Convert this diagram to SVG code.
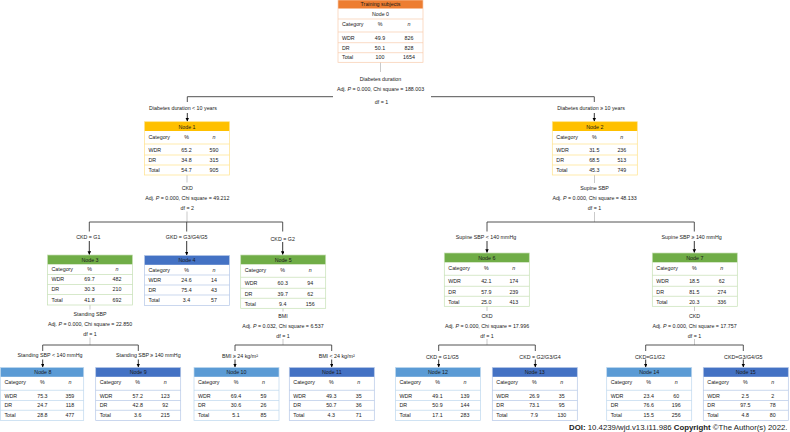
<svg xmlns="http://www.w3.org/2000/svg" width="790" height="432" viewBox="0 0 790 432">
<style>
text{font-family:"Liberation Sans",Arial,sans-serif;font-size:5.3px;fill:#1a1a1a}
.c{text-anchor:middle}
.i{font-style:italic}
.bx,.sep{fill:none;stroke-width:0.7}
.orange .hd{fill:#ED7D31}.orange .bx,.orange .sep{stroke:#F8CBAD}
.gold .hd{fill:#FFC000}.gold .bx,.gold .sep{stroke:#FFE28A}
.green .hd{fill:#70AD47}.green .bx,.green .sep{stroke:#C5E0B4}
.blue .hd{fill:#4472C4}.blue .bx,.blue .sep{stroke:#B4C7E7}
.lblue .hd{fill:#5B9BD5}.lblue .bx,.lblue .sep{stroke:#BDD7EE}
.stem{fill:none;stroke:#a6a6a6;stroke-width:0.6}
.br{fill:none;stroke:#404040;stroke-width:0.9}
.ar{fill:none;stroke:#000;stroke-width:0.8;marker-end:url(#ah)}
</style>
<defs>
<marker id="ah" markerUnits="userSpaceOnUse" markerWidth="4" markerHeight="4" refX="3.5" refY="1.75" orient="auto"><path d="M0,0L3.5,1.75L0,3.5z" fill="#000"/></marker>
</defs>
<rect width="790" height="432" fill="#fff"/>

<g id="connectors">
<path class="stem" d="M380.5,62.3V72"/>
<path class="br" d="M187.3,102V96.7H333M431,96.7H594.3V102"/>
<path class="ar" d="M187.3,113V121.5"/>
<path class="ar" d="M594.3,113V121.5"/>
<path class="stem" d="M187,175V182.5M187,211.5V222"/>
<path class="br" d="M89.3,231.5V222H282.7V231.5M186.7,222V231.5"/>
<path class="ar" d="M89.3,241V254.8"/>
<path class="ar" d="M186.7,241V255.3"/>
<path class="ar" d="M282.7,242V254.8"/>
<path class="stem" d="M594.5,175V183M594.5,212V222"/>
<path class="br" d="M487,231.5V222H694.3V231.5"/>
<path class="ar" d="M487,241V252.8"/>
<path class="ar" d="M694.3,241V252.8"/>
<path class="stem" d="M90,305V309.5M90,337.5V345"/>
<path class="br" d="M42.7,351V345H138.3V351"/>
<path class="stem" d="M283,308.3V311.5M283,339V345"/>
<path class="br" d="M235,351V345H331.7V351"/>
<path class="stem" d="M487,306.3V311M487,339V345"/>
<path class="br" d="M438.7,351V345H535.3V351"/>
<path class="stem" d="M694.5,306.3V311M694.5,339V345"/>
<path class="br" d="M645.7,351V345H743.3V351"/>
<path class="ar" d="M42.7,359.5V367.3"/>
<path class="ar" d="M138.3,359.5V367.3"/>
<path class="ar" d="M235,359.5V367.3"/>
<path class="ar" d="M331.7,359.5V367.3"/>
<path class="ar" d="M438.7,359.5V367.3"/>
<path class="ar" d="M535.3,359.5V367.3"/>
<path class="ar" d="M645.7,359.5V367.3"/>
<path class="ar" d="M743.3,359.5V367.3"/>
</g>

<g id="labels">
<text class="c" x="380.5" y="80.9">Diabetes duration</text>
<text class="c" x="380.5" y="91.2">Adj. <tspan class="i">P</tspan> = 0.000, Chi square = 188.003</text>
<text class="c" x="381.5" y="103.6">df = 1</text>
<text class="c" x="183" y="109.9">Diabetes duration &lt; 10 years</text>
<text class="c" x="591" y="110.2">Diabetes duration ≥ 10 years</text>
<text class="c" x="187.3" y="189.6">CKD</text>
<text class="c" x="187.3" y="199.6">Adj. <tspan class="i">P</tspan> = 0.000, Chi square = 49.212</text>
<text class="c" x="187.3" y="209.6">df = 2</text>
<text class="c" x="594.5" y="190.2">Supine SBP</text>
<text class="c" x="594.5" y="200.2">Adj. <tspan class="i">P</tspan> = 0.000, Chi square = 48.133</text>
<text class="c" x="594.5" y="210.2">df = 1</text>
<text class="c" x="88.3" y="238.6">CKD = G1</text>
<text class="c" x="186.7" y="238.6">GKD = G3/G4/G5</text>
<text class="c" x="282.7" y="240.9">CKD = G2</text>
<text class="c" x="486" y="238.6">Supine SBP &lt; 140 mmHg</text>
<text class="c" x="691.7" y="238.6">Supine SBP ≥ 140 mmHg</text>
<text class="c" x="90" y="316.2">Standing SBP</text>
<text class="c" x="90" y="326.2">Adj. <tspan class="i">P</tspan> = 0.000, Chi square = 22.850</text>
<text class="c" x="90" y="335.9">df = 1</text>
<text class="c" x="283" y="317.6">BMI</text>
<text class="c" x="283" y="327.6">Adj. <tspan class="i">P</tspan> = 0.032, Chi square = 6.537</text>
<text class="c" x="283" y="337.9">df = 1</text>
<text class="c" x="487" y="317.6">CKD</text>
<text class="c" x="487" y="327.6">Adj. <tspan class="i">P</tspan> = 0.000, Chi square = 17.996</text>
<text class="c" x="487" y="337.6">df = 1</text>
<text class="c" x="694.5" y="317.6">CKD</text>
<text class="c" x="694.5" y="327.6">Adj. <tspan class="i">P</tspan> = 0.000, Chi square = 17.757</text>
<text class="c" x="694.5" y="337.6">df = 1</text>
<text class="c" x="50" y="357.2">Standing SBP &lt; 140 mmHg</text>
<text class="c" x="148.3" y="357.2">Standing SBP ≥ 140 mmHg</text>
<text class="c" x="240" y="357.9">BMI ≥ 24 kg/m²</text>
<text class="c" x="336.7" y="357.9">BMI &lt; 24 kg/m²</text>
<text class="c" x="442.3" y="358.6">CKD = G1/G5</text>
<text class="c" x="540" y="358.6">CKD = G2/G3/G4</text>
<text class="c" x="650" y="358.6">CKD=G1/G2</text>
<text class="c" x="743.3" y="358.6">CKD=G3/G4/G5</text>
</g>

<g id="node0" class="orange" transform="translate(338,0)">
<rect class="hd" width="85" height="8.5"/>
<rect class="bx" x="0" y="0" width="85" height="62.3"/>
<path class="sep" d="M0,19H85M0,32H85M0,42.7H85M0,52.7H85"/>
<text class="c" x="42.5" y="6.2">Training subjects</text>
<text class="c" x="42.5" y="16.2">Node 0</text>
<text x="4" y="25.9">Category</text><text class="c" x="42" y="25.9">%</text><text class="c i" x="71" y="25.9">n</text>
<text x="4" y="39.6">WDR</text><text class="c" x="42" y="39.6">49.9</text><text class="c" x="71" y="39.6">826</text>
<text x="4" y="49.6">DR</text><text class="c" x="42" y="49.6">50.1</text><text class="c" x="71" y="49.6">828</text>
<text x="4" y="59.2">Total</text><text class="c" x="42" y="59.2">100</text><text class="c" x="71" y="59.2">1654</text>
</g>

<g id="node1" class="gold" transform="translate(144.5,121.7)">
<rect class="hd" width="85" height="9.3"/><rect class="bx" width="85" height="53.3"/>
<path class="sep" d="M0,22.3H85M0,33.3H85M0,43.3H85"/>
<text class="c" x="42.5" y="6.9">Node 1</text>
<text x="4" y="17.2">Category</text><text class="c" x="42" y="17.2">%</text><text class="c i" x="69.5" y="17.2">n</text>
<text x="4" y="30.2">WDR</text><text class="c" x="42" y="30.2">65.2</text><text class="c" x="69.5" y="30.2">590</text>
<text x="4" y="40.5">DR</text><text class="c" x="42" y="40.5">34.8</text><text class="c" x="69.5" y="40.5">315</text>
<text x="4" y="50.5">Total</text><text class="c" x="42" y="50.5">54.7</text><text class="c" x="69.5" y="50.5">905</text>
</g>

<g id="node2" class="gold" transform="translate(552.3,121.7)">
<rect class="hd" width="85" height="9.3"/><rect class="bx" width="85" height="53.3"/>
<path class="sep" d="M0,22.3H85M0,33.3H85M0,43.3H85"/>
<text class="c" x="42.5" y="6.9">Node 2</text>
<text x="4" y="17.2">Category</text><text class="c" x="42" y="17.2">%</text><text class="c i" x="69.5" y="17.2">n</text>
<text x="4" y="30.2">WDR</text><text class="c" x="42" y="30.2">31.5</text><text class="c" x="69.5" y="30.2">236</text>
<text x="4" y="40.5">DR</text><text class="c" x="42" y="40.5">68.5</text><text class="c" x="69.5" y="40.5">513</text>
<text x="4" y="50.5">Total</text><text class="c" x="42" y="50.5">45.3</text><text class="c" x="69.5" y="50.5">749</text>
</g>

<g id="node3" class="green" transform="translate(47.5,255)">
<rect class="hd" width="85" height="9.3"/><rect class="bx" width="85" height="50"/>
<path class="sep" d="M0,19.5H85M0,29.5H85M0,39.5H85"/>
<text class="c" x="42.5" y="6.9">Node 3</text>
<text x="4" y="16.4">Category</text><text class="c" x="42" y="16.4">%</text><text class="c i" x="69.5" y="16.4">n</text>
<text x="4" y="26.4">WDR</text><text class="c" x="42" y="26.4">69.7</text><text class="c" x="69.5" y="26.4">482</text>
<text x="4" y="36.4">DR</text><text class="c" x="42" y="36.4">30.3</text><text class="c" x="69.5" y="36.4">210</text>
<text x="4" y="46.6">Total</text><text class="c" x="42" y="46.6">41.8</text><text class="c" x="69.5" y="46.6">692</text>
</g>

<g id="node4" class="blue" transform="translate(144.5,255.5)">
<rect class="hd" width="85" height="9.3"/><rect class="bx" width="85" height="50"/>
<path class="sep" d="M0,19.5H85M0,29.5H85M0,39.5H85"/>
<text class="c" x="42.5" y="6.9">Node 4</text>
<text x="4" y="16.4">Category</text><text class="c" x="42" y="16.4">%</text><text class="c i" x="69.5" y="16.4">n</text>
<text x="4" y="26.4">WDR</text><text class="c" x="42" y="26.4">24.6</text><text class="c" x="69.5" y="26.4">14</text>
<text x="4" y="36.4">DR</text><text class="c" x="42" y="36.4">75.4</text><text class="c" x="69.5" y="36.4">43</text>
<text x="4" y="46.6">Total</text><text class="c" x="42" y="46.6">3.4</text><text class="c" x="69.5" y="46.6">57</text>
</g>

<g id="node5" class="green" transform="translate(240.7,255)">
<rect class="hd" width="85" height="9.3"/><rect class="bx" width="85" height="53.3"/>
<path class="sep" d="M0,22.3H85M0,33.3H85M0,43.3H85"/>
<text class="c" x="42.5" y="6.9">Node 5</text>
<text x="4" y="17.2">Category</text><text class="c" x="42" y="17.2">%</text><text class="c i" x="69.5" y="17.2">n</text>
<text x="4" y="30.2">WDR</text><text class="c" x="42" y="30.2">60.3</text><text class="c" x="69.5" y="30.2">94</text>
<text x="4" y="40.5">DR</text><text class="c" x="42" y="40.5">39.7</text><text class="c" x="69.5" y="40.5">62</text>
<text x="4" y="50.5">Total</text><text class="c" x="42" y="50.5">9.4</text><text class="c" x="69.5" y="50.5">156</text>
</g>

<g id="node6" class="green" transform="translate(444.3,253)">
<rect class="hd" width="85" height="9.3"/><rect class="bx" width="85" height="53.3"/>
<path class="sep" d="M0,22.3H85M0,33.3H85M0,43.3H85"/>
<text class="c" x="42.5" y="6.9">Node 6</text>
<text x="4" y="17.2">Category</text><text class="c" x="42" y="17.2">%</text><text class="c i" x="69.5" y="17.2">n</text>
<text x="4" y="30.2">WDR</text><text class="c" x="42" y="30.2">42.1</text><text class="c" x="69.5" y="30.2">174</text>
<text x="4" y="40.5">DR</text><text class="c" x="42" y="40.5">57.9</text><text class="c" x="69.5" y="40.5">239</text>
<text x="4" y="50.5">Total</text><text class="c" x="42" y="50.5">25.0</text><text class="c" x="69.5" y="50.5">413</text>
</g>

<g id="node7" class="green" transform="translate(652.3,253)">
<rect class="hd" width="85" height="9.3"/><rect class="bx" width="85" height="53.3"/>
<path class="sep" d="M0,22.3H85M0,33.3H85M0,43.3H85"/>
<text class="c" x="42.5" y="6.9">Node 7</text>
<text x="4" y="17.2">Category</text><text class="c" x="42" y="17.2">%</text><text class="c i" x="69.5" y="17.2">n</text>
<text x="4" y="30.2">WDR</text><text class="c" x="42" y="30.2">18.5</text><text class="c" x="69.5" y="30.2">62</text>
<text x="4" y="40.5">DR</text><text class="c" x="42" y="40.5">81.5</text><text class="c" x="69.5" y="40.5">274</text>
<text x="4" y="50.5">Total</text><text class="c" x="42" y="50.5">20.3</text><text class="c" x="69.5" y="50.5">336</text>
</g>

<g id="node8" class="lblue" transform="translate(0.4,367.5)">
<rect class="hd" width="83.3" height="9.3"/><rect class="bx" width="83.3" height="53"/>
<path class="sep" d="M0,22.8H83.3M0,33H83.3M0,42.8H83.3"/>
<text class="c" x="42.5" y="6.9">Node 8</text>
<text x="4" y="16.7">Category</text><text class="c" x="42" y="16.7">%</text><text class="c i" x="69.5" y="16.7">n</text>
<text x="4" y="30.4">WDR</text><text class="c" x="42" y="30.4">75.3</text><text class="c" x="69.5" y="30.4">359</text>
<text x="4" y="39.7">DR</text><text class="c" x="42" y="39.7">24.7</text><text class="c" x="69.5" y="39.7">118</text>
<text x="4" y="49.7">Total</text><text class="c" x="42" y="49.7">28.8</text><text class="c" x="69.5" y="49.7">477</text>
</g>

<g id="node9" class="blue" transform="translate(95.7,367.5)">
<rect class="hd" width="85" height="9.3"/><rect class="bx" width="85" height="53"/>
<path class="sep" d="M0,22.8H85M0,33H85M0,42.8H85"/>
<text class="c" x="42.5" y="6.9">Node 9</text>
<text x="4" y="16.7">Category</text><text class="c" x="42" y="16.7">%</text><text class="c i" x="69.5" y="16.7">n</text>
<text x="4" y="30.4">WDR</text><text class="c" x="42" y="30.4">57.2</text><text class="c" x="69.5" y="30.4">123</text>
<text x="4" y="39.7">DR</text><text class="c" x="42" y="39.7">42.8</text><text class="c" x="69.5" y="39.7">92</text>
<text x="4" y="49.7">Total</text><text class="c" x="42" y="49.7">3.6</text><text class="c" x="69.5" y="49.7">215</text>
</g>

<g id="node10" class="lblue" transform="translate(194,367.5)">
<rect class="hd" width="85" height="9.3"/><rect class="bx" width="85" height="53"/>
<path class="sep" d="M0,22.8H85M0,33H85M0,42.8H85"/>
<text class="c" x="42.5" y="6.9">Node 10</text>
<text x="4" y="16.7">Category</text><text class="c" x="42" y="16.7">%</text><text class="c i" x="69.5" y="16.7">n</text>
<text x="4" y="30.4">WDR</text><text class="c" x="42" y="30.4">69.4</text><text class="c" x="69.5" y="30.4">59</text>
<text x="4" y="39.7">DR</text><text class="c" x="42" y="39.7">30.6</text><text class="c" x="69.5" y="39.7">26</text>
<text x="4" y="49.7">Total</text><text class="c" x="42" y="49.7">5.1</text><text class="c" x="69.5" y="49.7">85</text>
</g>

<g id="node11" class="blue" transform="translate(289.3,367.5)">
<rect class="hd" width="85" height="9.3"/><rect class="bx" width="85" height="53"/>
<path class="sep" d="M0,22.8H85M0,33H85M0,42.8H85"/>
<text class="c" x="42.5" y="6.9">Node 11</text>
<text x="4" y="16.7">Category</text><text class="c" x="42" y="16.7">%</text><text class="c i" x="69.5" y="16.7">n</text>
<text x="4" y="30.4">WDR</text><text class="c" x="42" y="30.4">49.3</text><text class="c" x="69.5" y="30.4">35</text>
<text x="4" y="39.7">DR</text><text class="c" x="42" y="39.7">50.7</text><text class="c" x="69.5" y="39.7">36</text>
<text x="4" y="49.7">Total</text><text class="c" x="42" y="49.7">4.3</text><text class="c" x="69.5" y="49.7">71</text>
</g>

<g id="node12" class="lblue" transform="translate(395.5,367.5)">
<rect class="hd" width="85" height="9.3"/><rect class="bx" width="85" height="53"/>
<path class="sep" d="M0,22.8H85M0,33H85M0,42.8H85"/>
<text class="c" x="42.5" y="6.9">Node 12</text>
<text x="4" y="16.7">Category</text><text class="c" x="42" y="16.7">%</text><text class="c i" x="69.5" y="16.7">n</text>
<text x="4" y="30.4">WDR</text><text class="c" x="42" y="30.4">49.1</text><text class="c" x="69.5" y="30.4">139</text>
<text x="4" y="39.7">DR</text><text class="c" x="42" y="39.7">50.9</text><text class="c" x="69.5" y="39.7">144</text>
<text x="4" y="49.7">Total</text><text class="c" x="42" y="49.7">17.1</text><text class="c" x="69.5" y="49.7">283</text>
</g>

<g id="node13" class="blue" transform="translate(492.3,367.5)">
<rect class="hd" width="85" height="9.3"/><rect class="bx" width="85" height="53"/>
<path class="sep" d="M0,22.8H85M0,33H85M0,42.8H85"/>
<text class="c" x="42.5" y="6.9">Node 13</text>
<text x="4" y="16.7">Category</text><text class="c" x="42" y="16.7">%</text><text class="c i" x="69.5" y="16.7">n</text>
<text x="4" y="30.4">WDR</text><text class="c" x="42" y="30.4">26.9</text><text class="c" x="69.5" y="30.4">35</text>
<text x="4" y="39.7">DR</text><text class="c" x="42" y="39.7">73.1</text><text class="c" x="69.5" y="39.7">95</text>
<text x="4" y="49.7">Total</text><text class="c" x="42" y="49.7">7.9</text><text class="c" x="69.5" y="49.7">130</text>
</g>

<g id="node14" class="lblue" transform="translate(606.7,367.5)">
<rect class="hd" width="85" height="9.3"/><rect class="bx" width="85" height="53"/>
<path class="sep" d="M0,22.8H85M0,33H85M0,42.8H85"/>
<text class="c" x="42.5" y="6.9">Node 14</text>
<text x="4" y="16.7">Category</text><text class="c" x="42" y="16.7">%</text><text class="c i" x="69.5" y="16.7">n</text>
<text x="4" y="30.4">WDR</text><text class="c" x="42" y="30.4">23.4</text><text class="c" x="69.5" y="30.4">60</text>
<text x="4" y="39.7">DR</text><text class="c" x="42" y="39.7">76.6</text><text class="c" x="69.5" y="39.7">196</text>
<text x="4" y="49.7">Total</text><text class="c" x="42" y="49.7">15.5</text><text class="c" x="69.5" y="49.7">256</text>
</g>

<g id="node15" class="blue" transform="translate(703.3,367.5)">
<rect class="hd" width="85" height="9.3"/><rect class="bx" width="85" height="53"/>
<path class="sep" d="M0,22.8H85M0,33H85M0,42.8H85"/>
<text class="c" x="42.5" y="6.9">Node 15</text>
<text x="4" y="16.7">Category</text><text class="c" x="42" y="16.7">%</text><text class="c i" x="69.5" y="16.7">n</text>
<text x="4" y="30.4">WDR</text><text class="c" x="42" y="30.4">2.5</text><text class="c" x="69.5" y="30.4">2</text>
<text x="4" y="39.7">DR</text><text class="c" x="42" y="39.7">97.5</text><text class="c" x="69.5" y="39.7">78</text>
<text x="4" y="49.7">Total</text><text class="c" x="42" y="49.7">4.8</text><text class="c" x="69.5" y="49.7">80</text>
</g>

<text x="787.5" y="429.5" style="font-size:7.8px;text-anchor:end;fill:#222"><tspan font-weight="bold">DOI:</tspan> 10.4239/wjd.v13.i11.986 <tspan font-weight="bold">Copyright</tspan> ©The Author(s) 2022.</text>
</svg>
